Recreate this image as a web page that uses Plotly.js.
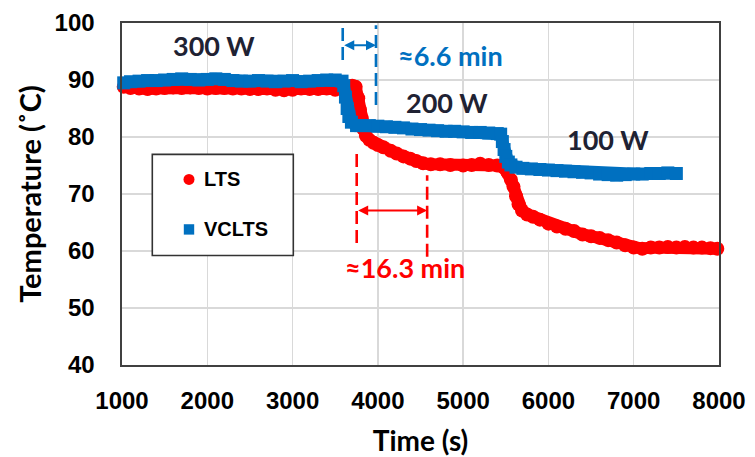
<!DOCTYPE html>
<html>
<head>
<meta charset="utf-8">
<script src="https://cdn.plot.ly/plotly-3.0.1.min.js"></script>
<style>html,body{margin:0;padding:0;background:#fff;}#chart{width:755px;height:457px;}</style>
</head>
<body>
<div id="chart"></div>
<script>
// ---- data ----
const ltsTime = [1020,1100,1200,1300,1400,1500,1600,1700,1800,1900,2000,2100,2200,2300,2400,2500,2600,2700,2800,2900,3000,3100,3200,3300,3400,3500,3600,3650,3700,3740,3770,3790,3810,3830,3860,3900,3950,4000,4064,4150,4220,4300,4380,4450,4530,4620,4730,4850,5000,5100,5200,5300,5400,5480,5520,5560,5590,5620,5650,5690,5750,5820,5900,6000,6100,6200,6300,6400,6500,6600,6700,6800,6900,7000,7100,7200,7300,7400,7500,7600,7700,7800,7900,7980];
const ltsTemp = [88.8,88.6,88.5,88.4,88.5,88.6,88.7,88.6,88.7,88.6,88.5,88.6,88.6,88.5,88.5,88.4,88.4,88.5,88.3,88.2,88.3,88.5,88.4,88.4,88.5,88.3,88.3,88.4,89.0,88.8,86.8,84.8,83.3,81.4,80.2,79.5,79.0,78.6,78.2,77.6,77.1,76.6,76.2,75.8,75.4,75.2,75.2,75.1,75.0,75.1,75.3,75.1,75.0,74.6,73.8,72.5,71.3,69.6,68.2,67.1,66.4,66.0,65.5,64.8,64.3,63.9,63.5,62.9,62.6,62.3,61.9,61.5,61.0,60.6,60.4,60.6,60.6,60.7,60.6,60.7,60.6,60.6,60.5,60.4];

const vcltsTime = [1020,1100,1200,1300,1400,1500,1600,1700,1800,1900,2000,2100,2200,2300,2400,2500,2600,2700,2800,2900,3000,3100,3200,3300,3400,3500,3580,3600,3620,3640,3660,3690,3750,3800,3900,4000,4100,4200,4300,4400,4500,4600,4700,4800,4900,5000,5100,5200,5300,5400,5440,5460,5480,5500,5530,5560,5620,5700,5800,5900,6000,6100,6200,6300,6400,6500,6600,6700,6800,6900,7000,7100,7200,7300,7400,7500];
const vcltsTemp = [89.5,89.7,89.8,89.9,89.9,90.0,90.1,90.2,90.1,90.0,90.1,90.2,90.1,89.9,89.8,89.8,89.9,89.8,89.7,89.8,89.9,89.7,89.8,89.9,90.0,90.0,89.8,89.0,87.0,85.0,83.6,82.6,82.0,82.0,82.0,81.9,81.8,81.7,81.6,81.4,81.3,81.2,81.1,81.0,81.0,80.9,80.8,80.8,80.7,80.6,80.5,79.2,77.8,76.6,75.6,75.1,74.7,74.5,74.4,74.3,74.2,74.1,74.0,73.9,73.8,73.7,73.5,73.4,73.3,73.4,73.5,73.5,73.6,73.6,73.7,73.6];

const seriesNames = ['LTS', 'VCLTS'];
const xTicks = [1000,2000,3000,4000,5000,6000,7000,8000];
const yTicks = [40,50,60,70,80,90,100];

// annotation positions (data units)
const powerLabels = [
  {text:'300 W', t:2080, T:96.1},
  {text:'200 W', t:4816, T:86.1},
  {text:'100 W', t:6698, T:79.6}
];
const blueMarks = {left:3588, right:3978, arrowT:96.1, leftTop:99.6, leftBot:93.5, rightTop:99.6, rightBot:85.6, label:'≈6.6 min', labelT:4846, labelY:94.3};
const redMarks  = {left:3752, right:4578, arrowT:67.1, leftTop:78.0, leftBot:61.4, rightTop:73.3, rightBot:59.0, label:'≈16.3 min', labelT:4318, labelY:57.1};

const RED = '#FF0000', BLUE = '#0070C0', TXT = '#1F2233';
const tickFont = {family:'"Liberation Sans", Arial, sans-serif', size:24, color:'#000'};
const calFont = 'Lato, "Open Sans", sans-serif';

const traces = [
  {x:ltsTime, y:ltsTemp, name:seriesNames[0], type:'scatter', mode:'lines+markers',
   line:{color:RED, width:12}, marker:{color:RED, size:14, symbol:'circle'}, cliponaxis:false, showlegend:false},
  {x:vcltsTime, y:vcltsTemp, name:seriesNames[1], type:'scatter', mode:'lines+markers',
   line:{color:BLUE, width:12}, marker:{color:BLUE, size:13, symbol:'square'}, cliponaxis:false, showlegend:false}
];

function vline(x, y0, y1, color){
  return {type:'line', xref:'x', yref:'y', x0:x, x1:x, y0:y0, y1:y1, line:{color:color, width:2.6, dash:'13px,6px'}};
}
function ypx(py){ return (364.5 - py)/341.8; }
function xpx(px){ return (px - 122)/597; }

const shapes = [
  vline(blueMarks.left, blueMarks.leftBot, blueMarks.leftTop, BLUE),
  vline(blueMarks.right, blueMarks.rightBot, blueMarks.rightTop, BLUE),
  vline(redMarks.left, redMarks.leftBot, redMarks.leftTop, RED),
  vline(redMarks.right, redMarks.rightBot, redMarks.rightTop, RED),
  // legend box
  {type:'rect', xref:'paper', yref:'paper', x0:xpx(152.3), x1:xpx(293.3), y0:ypx(255), y1:ypx(154), line:{color:'#333', width:1.6}, fillcolor:'#fff', layer:'above'},
  {type:'circle', xref:'paper', yref:'paper', xsizemode:'pixel', ysizemode:'pixel', xanchor:xpx(189), yanchor:ypx(179), x0:-5.5, x1:5.5, y0:-5.5, y1:5.5, fillcolor:RED, line:{width:0}, layer:'above'},
  {type:'rect', xref:'paper', yref:'paper', xsizemode:'pixel', ysizemode:'pixel', xanchor:xpx(189), yanchor:ypx(229), x0:-5.2, x1:5.2, y0:-5.2, y1:5.2, fillcolor:BLUE, line:{width:0}, layer:'above'}
];

const annotations = [];
powerLabels.forEach(p => annotations.push({x:p.t, y:p.T, xref:'x', yref:'y', text:'<b>' + p.text + '</b>', showarrow:false,
  font:{family:calFont, size:27, color:TXT}}));
annotations.push({x:blueMarks.labelT, y:blueMarks.labelY, xref:'x', yref:'y', text:'<b>' + blueMarks.label + '</b>', showarrow:false,
  font:{family:calFont, size:27, color:BLUE}});
annotations.push({x:redMarks.labelT, y:redMarks.labelY, xref:'x', yref:'y', text:'<b>' + redMarks.label + '</b>', showarrow:false,
  font:{family:calFont, size:27, color:RED}});
[[blueMarks, BLUE], [redMarks, RED]].forEach(([m, c]) => annotations.push({
  x:m.right, y:m.arrowT, ax:m.left, ay:m.arrowT, xref:'x', yref:'y', axref:'x', ayref:'y', text:'',
  showarrow:true, arrowside:'end+start', arrowhead:2, startarrowhead:2, arrowsize:1, startarrowsize:1, arrowwidth:2, arrowcolor:c,
  standoff:0, startstandoff:0}));
// legend texts
annotations.push({xref:'paper', yref:'paper', x:xpx(202), y:ypx(179), xanchor:'left', yanchor:'middle', text:'<b>LTS</b>', showarrow:false,
  font:{family:'"Liberation Sans", Arial, sans-serif', size:20, color:'#000'}});
annotations.push({xref:'paper', yref:'paper', x:xpx(202), y:ypx(229), xanchor:'left', yanchor:'middle', text:'<b>VCLTS</b>', showarrow:false,
  font:{family:'"Liberation Sans", Arial, sans-serif', size:20, color:'#000'}});

const layout = {
  width:755, height:457,
  margin:{l:122, r:36, t:23, b:92, pad:0},
  paper_bgcolor:'#fff', plot_bgcolor:'#fff',
  showlegend:false,
  xaxis:{range:[1000,8000], tickvals:xTicks, ticktext:xTicks.map(String), ticks:'', ticklabelstandoff:14,
    showgrid:true, gridcolor:'#D9D9D9', gridwidth:1.3, zeroline:false,
    showline:true, linecolor:'#404040', linewidth:1.6, mirror:true,
    tickfont:{...tickFont, weight:'bold'},
    title:{text:'<b>Time (s)</b>', font:{family:calFont, size:28, color:'#000'}, standoff:30}},
  yaxis:{range:[40,100], tickvals:yTicks, ticktext:yTicks.map(String), ticks:'', ticklabelstandoff:21,
    showgrid:true, gridcolor:'#D9D9D9', gridwidth:1.3, zeroline:false,
    showline:true, linecolor:'#404040', linewidth:1.6, mirror:true,
    tickfont:{...tickFont, weight:'bold'},
    title:{text:'<b>Temperature (˚C)</b>', font:{family:calFont, size:29, color:'#000'}, standoff:4}},
  shapes:shapes,
  annotations:annotations
};

Plotly.newPlot('chart', traces, layout, {staticPlot:true, displayModeBar:false});
</script>
</body>
</html>
